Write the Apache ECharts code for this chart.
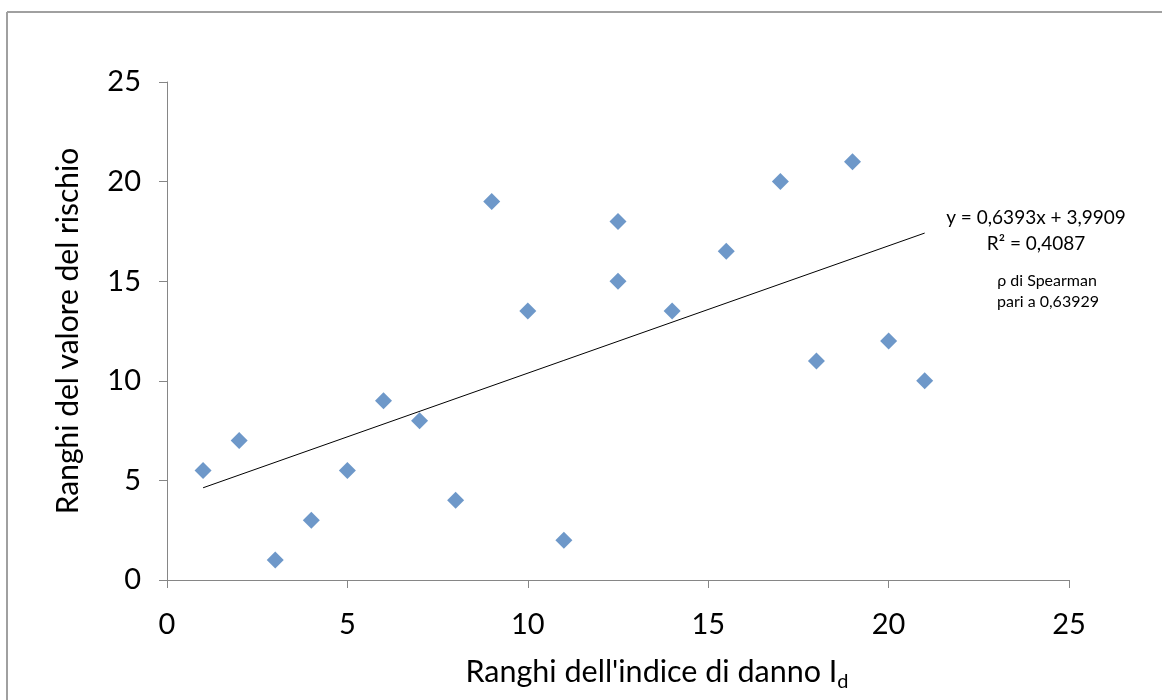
<!DOCTYPE html>
<html><head><meta charset="utf-8">
<script src="https://cdn.jsdelivr.net/npm/echarts@6/dist/echarts.min.js"></script>
<style>html,body{margin:0;padding:0;background:#fff}#c{width:1162px;height:700px}</style>
</head><body><div id="c"></div>
<script>
const xRanks = [1, 2, 3, 4, 5, 6, 7, 8, 9, 10, 11, 12.5, 12.5, 14, 15.5, 17, 18, 19, 20, 21];
const yRanks = [5.5, 7, 1, 3, 5.5, 9, 8, 4, 19, 13.5, 2, 18, 15, 13.5, 16.5, 20, 11, 21, 12, 10];
const trendSlope = 0.6393;
const trendIntercept = 3.9909;
const trendRange = [1, 21];
const axisTicks = [0, 5, 10, 15, 20, 25];
const annotations = ['y = 0,6393x + 3,9909', 'R² = 0,4087', 'ρ di Spearman', 'pari a 0,63929'];

const FONT = 'Lato';
const points = xRanks.map((x, i) => [x, yRanks[i]]);
const trend = trendRange.map(x => [x, trendSlope * x + trendIntercept]);

const chart = echarts.init(document.getElementById('c'), null, {renderer: 'canvas'});
const axisCommon = {
  type: 'value', min: axisTicks[0], max: axisTicks[axisTicks.length - 1], interval: 5,
  axisLine: {show: true, lineStyle: {color: '#868686', width: 1}},
  axisTick: {show: true, inside: false, length: 8, lineStyle: {color: '#868686'}},
  splitLine: {show: false},
  axisLabel: {color: '#000', fontFamily: FONT, fontSize: 29}
};
chart.setOption({
  animation: false,
  backgroundColor: '#fff',
  grid: {left: 167, top: 82, right: 93, bottom: 120, containLabel: false},
  xAxis: Object.assign({}, axisCommon, {
    axisLabel: Object.assign({}, axisCommon.axisLabel, {margin: 30}),
    name: '{t|Ranghi dell\'indice di danno I}{s|d}',
    nameLocation: 'middle', nameGap: 72,
    nameTextStyle: {padding: [0, 0, 0, 78], rich: {
      t: {fontFamily: FONT, fontSize: 30.5, color: '#000'},
      s: {fontFamily: FONT, fontSize: 20, color: '#000', padding: [20, 0, 0, 0]}
    }}
  }),
  yAxis: Object.assign({}, axisCommon, {
    axisLabel: Object.assign({}, axisCommon.axisLabel, {margin: 26}),
    name: 'Ranghi del valore del rischio',
    nameLocation: 'middle', nameGap: 84,
    nameTextStyle: {fontFamily: FONT, fontSize: 30, color: '#000'}
  }),
  series: [
    {type: 'scatter', data: points, symbol: 'diamond', symbolSize: 17,
     itemStyle: {color: '#4A7EBB'}, z: 3},
    {type: 'line', data: trend, symbol: 'none', lineStyle: {color: '#000', width: 1}, z: 2}
  ],
  graphic: [
    {type: 'line', shape: {x1: 7, y1: 12, x2: 1162, y2: 12}, style: {stroke: '#a0a0a0', lineWidth: 2}},
    {type: 'line', shape: {x1: 7, y1: 12, x2: 7, y2: 700}, style: {stroke: '#a0a0a0', lineWidth: 2}},
    {type: 'text', x: 1036, y: 218, style: {text: annotations[0], fontFamily: FONT, fontSize: 19, fill: '#000', align: 'center', verticalAlign: 'middle'}},
    {type: 'text', x: 1036, y: 244, style: {text: annotations[1], fontFamily: FONT, fontSize: 19, fill: '#000', align: 'center', verticalAlign: 'middle'}},
    {type: 'text', x: 1047, y: 281, style: {text: annotations[2], fontFamily: FONT, fontSize: 16, fill: '#000', align: 'center', verticalAlign: 'middle'}},
    {type: 'text', x: 1048, y: 302, style: {text: annotations[3], fontFamily: FONT, fontSize: 16, fill: '#000', align: 'center', verticalAlign: 'middle'}}
  ]
});
</script></body></html>
